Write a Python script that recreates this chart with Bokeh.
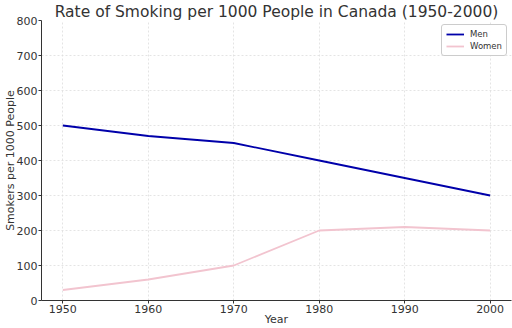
from bokeh.plotting import figure
from bokeh.models import Range1d, FixedTicker, Legend, LegendItem
from bokeh.embed import file_html
from bokeh.resources import INLINE

years = [1950, 1960, 1970, 1980, 1990, 2000]
men = [500, 470, 450, 400, 350, 300]
women = [30, 60, 100, 200, 210, 200]
x_ticks = [1950, 1960, 1970, 1980, 1990, 2000]
y_ticks = [0, 100, 200, 300, 400, 500, 600, 700, 800]

FONT = "DejaVu Sans"
TXT = "#333333"

p = figure(width=512, height=328, output_backend="svg", toolbar_location=None,
           x_range=Range1d(1947.5, 2002.5), y_range=Range1d(0, 800),
           min_border_left=0, min_border_right=1, min_border_top=0, min_border_bottom=0)

p.title.text = "Rate of Smoking per 1000 People in Canada (1950-2000)"
p.title.align = "center"
p.title.text_font = FONT
p.title.text_font_size = "15.5px"
p.title.text_font_style = "normal"
p.title.text_color = TXT
p.title.standoff = 0
p.title.offset = 0

p.outline_line_color = None
p.background_fill_color = "white"
p.border_fill_color = "white"

for ax in (p.xaxis, p.yaxis):
    ax.axis_line_color = "#333333"
    ax.axis_line_width = 1
    ax.major_tick_line_color = "#333333"
    ax.major_tick_out = 3
    ax.major_tick_in = 0
    ax.minor_tick_line_color = None
    ax.major_label_text_font = FONT
    ax.major_label_text_font_size = "11px"
    ax.major_label_text_color = TXT
    ax.axis_label_text_font = FONT
    ax.axis_label_text_font_size = "11px"
    ax.axis_label_text_font_style = "normal"
    ax.axis_label_text_color = TXT

p.xaxis.ticker = FixedTicker(ticks=x_ticks)
p.yaxis.ticker = FixedTicker(ticks=y_ticks)
p.xaxis.axis_label = "Year"
p.yaxis.axis_label = "Smokers per 1000 People"
p.xaxis.axis_label_standoff = -3
p.yaxis.axis_label_standoff = -3
p.xaxis.major_label_standoff = 1
p.yaxis.major_label_standoff = 1

for g in (p.xgrid, p.ygrid):
    g.grid_line_color = "#dddddd"
    g.grid_line_dash = "2 2"
    g.grid_line_width = 0.8

r1 = p.line(years, men, line_color="#0000aa", line_width=1.8)
r2 = p.line(years, women, line_color="#f2c4cf", line_width=1.8)

legend = Legend(items=[LegendItem(label="Men", renderers=[r1]),
                       LegendItem(label="Women", renderers=[r2])],
                location="top_right")
legend.label_text_font = FONT
legend.label_text_font_size = "8.5px"
legend.label_text_color = TXT
legend.border_line_color = "#cccccc"
legend.border_line_alpha = 1
legend.border_radius = 3
legend.glyph_width = 18
legend.glyph_height = 10
legend.label_height = 10
legend.spacing = 2
legend.padding = 4
legend.margin = 4
legend.label_standoff = 6
p.add_layout(legend)

open("out.html", "w").write(file_html(p, INLINE))
